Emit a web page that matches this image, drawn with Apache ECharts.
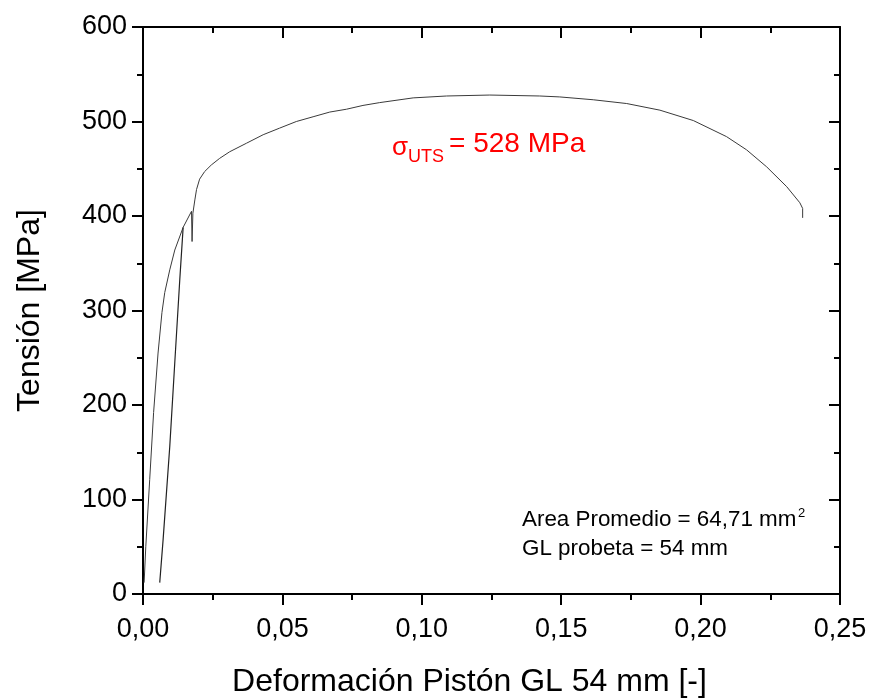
<!DOCTYPE html>
<html>
<head>
<meta charset="utf-8">
<script src="https://cdn.jsdelivr.net/npm/echarts@6/dist/echarts.min.js"></script>
<style>
  html, body { margin: 0; padding: 0; background: #fff; }
  #chart { width: 872px; height: 700px; }
</style>
</head>
<body>
<div id="chart"></div>
<script>
  // curva de tracción (deformación, tensión)
  var strain = [0.0004, 0.0010, 0.0024, 0.0038, 0.0054, 0.0068, 0.0078, 0.0096, 0.0114, 0.0144,
    0.0174, 0.0176, 0.0179, 0.0186, 0.0192, 0.0203, 0.0221, 0.0245, 0.0275, 0.0311,
    0.0371, 0.0431, 0.0490, 0.0550, 0.0610, 0.0670, 0.0730, 0.0789, 0.0849, 0.0969,
    0.1089, 0.1244, 0.1423, 0.1495, 0.1615, 0.1735, 0.1854, 0.1974, 0.2093, 0.2165,
    0.2237, 0.2309, 0.2356, 0.2366, 0.2366]
  var stress = [12, 50, 121, 192, 255, 298, 319, 343, 364, 388,
    405, 373, 403, 417, 428, 439, 447, 454, 461, 468,
    477, 486, 493, 500, 505, 510, 513, 517, 520, 525,
    527, 528, 527, 526, 523, 519, 512, 501, 484, 470,
    452, 431, 414, 408, 398]

  // tramo recto de recarga
  var reloadStrain = [0.0060, 0.0072, 0.0096, 0.0114, 0.0132, 0.0144]
  var reloadStress = [12, 57, 156, 245, 333, 388]

  var xTicks = { min: 0, max: 0.25, interval: 0.05 }
  var yTicks = { min: 0, max: 600, interval: 100 }

  var font = 'Liberation Sans, Arial, sans-serif'

  function pairs(xs, ys) {
    return xs.map(function (x, i) { return [x, ys[i]] })
  }

  var chart = echarts.init(document.getElementById('chart'))

  var axisLine = { show: true, onZero: false, lineStyle: { color: '#000', width: 2 } }
  var tickStyle = { color: '#000', width: 2 }

  var option = {
    animation: false,
    grid: { left: 143, right: 32, top: 27, bottom: 106, containLabel: false, outerBoundsMode: 'none' },
    xAxis: [
      {
        type: 'value',
        position: 'bottom',
        min: xTicks.min,
        max: xTicks.max,
        interval: xTicks.interval,
        axisLine: axisLine,
        axisTick: { show: true, inside: false, length: 11, lineStyle: tickStyle },
        minorTick: { show: true, splitNumber: 2, length: 6, lineStyle: tickStyle },
        splitLine: { show: false },
        axisLabel: {
          margin: 22,
          color: '#000',
          fontSize: 27,
          fontFamily: font,
          formatter: function (v) { return v.toFixed(2).replace('.', ',') },
        },
        name: 'Deformación Pistón GL 54 mm [-]',
        nameLocation: 'middle',
        nameGap: 72,
        nameTextStyle: { color: '#000', fontSize: 32, fontFamily: font, padding: [0, 44, 0, 0] },
      },
      {
        type: 'value',
        position: 'top',
        min: xTicks.min,
        max: xTicks.max,
        interval: xTicks.interval,
        axisLine: axisLine,
        axisTick: { show: true, inside: true, length: 11, lineStyle: tickStyle },
        minorTick: { show: true, splitNumber: 2, length: 6, lineStyle: tickStyle },
        splitLine: { show: false },
        axisLabel: { show: false },
      },
    ],
    yAxis: [
      {
        type: 'value',
        position: 'left',
        min: yTicks.min,
        max: yTicks.max,
        interval: yTicks.interval,
        axisLine: axisLine,
        axisTick: { show: true, inside: false, length: 11, lineStyle: tickStyle },
        minorTick: { show: true, splitNumber: 2, length: 6, lineStyle: tickStyle },
        splitLine: { show: false },
        axisLabel: { margin: 16, color: '#000', fontSize: 27, fontFamily: font },
        name: 'Tensión [MPa]',
        nameLocation: 'middle',
        nameGap: 97,
        nameTextStyle: { color: '#000', fontSize: 32, fontFamily: font },
      },
      {
        type: 'value',
        position: 'right',
        min: yTicks.min,
        max: yTicks.max,
        interval: yTicks.interval,
        axisLine: axisLine,
        axisTick: { show: true, inside: true, length: 11, lineStyle: tickStyle },
        minorTick: { show: true, splitNumber: 2, length: 6, lineStyle: tickStyle },
        splitLine: { show: false },
        axisLabel: { show: false },
      },
    ],
    series: [
      {
        name: 'curva',
        type: 'line',
        data: pairs(strain, stress),
        showSymbol: false,
        lineStyle: { color: '#3a3a3a', width: 1 },
      },
      {
        name: 'recarga',
        type: 'line',
        data: pairs(reloadStrain, reloadStress),
        showSymbol: false,
        lineStyle: { color: '#222', width: 1.2 },
      },
    ],
    graphic: [
      { type: 'text', left: 392, top: 135, style: { text: 'σ', fill: '#f00', font: '26px ' + font } },
      { type: 'text', left: 408, top: 148, style: { text: 'UTS', fill: '#f00', font: '18px ' + font } },
      { type: 'text', left: 449, top: 130, style: { text: '= 528 MPa', fill: '#f00', font: '28px ' + font } },
      { type: 'text', left: 522, top: 509, style: { text: 'Area Promedio = 64,71 mm', fill: '#000', font: '22.4px ' + font } },
      { type: 'text', left: 798, top: 507, style: { text: '2', fill: '#000', font: '13px ' + font } },
      { type: 'text', left: 522, top: 538, style: { text: 'GL probeta = 54 mm', fill: '#000', font: '22.4px ' + font } },
    ],
  }

  chart.setOption(option)
</script>
</body>
</html>
